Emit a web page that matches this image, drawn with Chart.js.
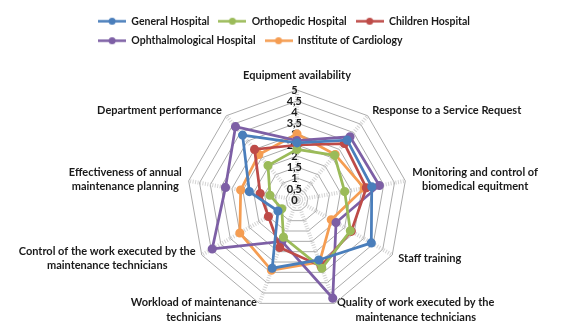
<!DOCTYPE html>
<html><head><meta charset="utf-8">
<script src="https://cdn.jsdelivr.net/npm/chart.js@4.4.1/dist/chart.umd.min.js"></script>
<style>html,body{margin:0;padding:0;background:#fff}</style>
</head><body>
<canvas id="c" width="567" height="326"></canvas>
<script>
const categories = [
  'Equipment availability',
  'Response to a Service Request',
  ['Monitoring and control of', 'biomedical equitment'],
  'Staff training',
  ['Quality of work executed by the', 'maintenance technicians'],
  ['Workload of maintenance', 'technicians'],
  ['Control of the work executed by the', 'maintenance technicians'],
  ['Effectiveness of annual', 'maintenance planning'],
  'Department performance'
];
const seriesNames = ['General Hospital', 'Orthopedic Hospital', 'Children Hospital', 'Ophthalmological Hospital', 'Institute of Cardiology'];
const generalHospital          = [2.6, 3.55, 3.45, 3.9, 2.9, 3.3, 1.0, 2.2, 3.85];
const orthopedicHospital       = [2.3, 2.65, 2.2, 2.8, 3.3, 1.8, 0.8, 1.25, 2.05];
const childrenHospital         = [2.5, 3.35, 3.2, 2.85, 3.2, 2.3, 1.5, 1.7, 3.0];
const ophthalmologicalHospital = [2.7, 3.75, 3.8, 2.05, 4.75, 2.0, 4.45, 3.3, 4.35];
const instituteOfCardiology    = [3.0, 2.7, 3.1, 1.8, 3.0, 3.4, 3.0, 2.6, 2.7];
const tickValues = [0, 0.5, 1, 1.5, 2, 2.5, 3, 3.5, 4, 4.5, 5];
const tickLabels = ['0', '0,5', '1', '1,5', '2', '2,5', '3', '3,5', '4', '4,5', '5'];
const legendRows = [3, 2];

// layout of the radar inside the canvas (fractions of canvas size) and label gap
const radarBox = { cx: 297 / 567, cy: 200 / 326, r: 110 / 326, labelGap: 7 };

const colors = ['#4a7ebb', '#9bbb59', '#be4b48', '#7d5fa5', '#f59d52'];
const FONT = 'Lato, "Liberation Sans", sans-serif';

function makeMarker(color) {
  const c = document.createElement('canvas');
  c.width = 28; c.height = 9;
  const x = c.getContext('2d');
  x.strokeStyle = color; x.lineWidth = 2.5;
  x.beginPath(); x.moveTo(0, 4.5); x.lineTo(28, 4.5); x.stroke();
  x.fillStyle = color;
  x.beginPath(); x.arc(14, 4.5, 3.5, 0, Math.PI * 2); x.fill();
  return c;
}
const markers = colors.map(makeMarker);

const allSeries = [generalHospital, orthopedicHospital, childrenHospital, ophthalmologicalHospital, instituteOfCardiology];

const legendWrap = {
  id: 'legendWrap',
  afterUpdate(chart) {
    const lg = chart.legend;
    if (!lg || !lg.legendItems) return;
    const lo = lg.options.labels;
    const font = Chart.helpers.toFont(lo.font);
    const ctx = chart.ctx;
    ctx.save(); ctx.font = font.string;
    const widths = lg.legendItems.map(it => lo.pointStyleWidth + font.size / 2 + ctx.measureText(it.text).width + lo.padding);
    ctx.restore();
    const lw = []; let k = 0;
    legendRows.forEach(n => { let s = 0; for (let j = 0; j < n; j++) s += widths[k++]; lw.push(s); });
    const maxW = Math.max(...lw);
    const mid = (lg.left + lg.right) / 2;
    lg.left = mid - (maxW + lo.padding) / 2;
    lg.right = lg.left + maxW + lo.padding + 1;
    lg.lineWidths = lw.map(() => maxW);
  }
};

const zeroLabel = {
  id: 'zeroLabel',
  beforeDatasetsDraw(chart) {
    const r = chart.scales.r;
    const p = r.getPointPositionForValue(0, tickValues[0]);
    const ctx = chart.ctx;
    const f = Chart.helpers.toFont(r.options.ticks.font);
    ctx.save();
    ctx.font = f.string;
    ctx.fillStyle = r.options.ticks.color;
    ctx.textAlign = 'center';
    ctx.textBaseline = 'middle';
    ctx.fillText(tickLabels[0] + '  ', p.x, p.y);
    ctx.restore();
  }
};

// place radar and its category labels the way the spreadsheet does
function placeRadar(scale) {
  const W = scale.chart.width, H = scale.chart.height;
  scale.xCenter = Math.round(W * radarBox.cx);
  scale.yCenter = Math.round(H * radarBox.cy);
  scale.drawingArea = Math.round(H * radarBox.r);
  const ctx = scale.ctx;
  const items = [];
  scale._pointLabels.forEach((lab, i) => {
    const opts = scale.options.pointLabels.setContext(scale.getPointLabelContext(i));
    const f = Chart.helpers.toFont(opts.font);
    const lines = Array.isArray(lab) ? lab : [lab];
    ctx.save(); ctx.font = f.string;
    const w = Math.max(...lines.map(l => ctx.measureText(l).width));
    ctx.restore();
    const h = lines.length * f.lineHeight;
    const p = scale.getPointPosition(i, scale.drawingArea + radarBox.labelGap);
    const ux = p.x - scale.xCenter, uy = p.y - scale.yCenter;
    let left, top;
    if (Math.abs(ux) < 0.5) {
      left = p.x - w / 2;
      top = uy < 0 ? p.y - h : p.y;
    } else {
      left = ux > 0 ? p.x : p.x - w;
      top = p.y - h / 2;
    }
    items.push({ visible: true, x: left + w / 2, y: top, textAlign: 'center', left, top, right: left + w, bottom: top + h });
  });
  scale._pointLabelItems = items;
}

new Chart(document.getElementById('c'), {
  type: 'radar',
  data: {
    labels: categories,
    datasets: seriesNames.map((name, i) => ({
      label: name,
      data: allSeries[i],
      borderColor: colors[i],
      backgroundColor: colors[i],
      pointBackgroundColor: colors[i],
      pointBorderColor: colors[i],
      pointRadius: 3.2,
      borderWidth: 2.75,
      fill: false
    }))
  },
  options: {
    responsive: false,
    animation: false,
    layout: { padding: { top: 7, bottom: 2, left: 0, right: 0 } },
    plugins: {
      tooltip: { enabled: false },
      legend: {
        position: 'top',
        labels: {
          usePointStyle: true,
          pointStyleWidth: 28,
          padding: 9,
          color: '#1a1a1a',
          font: { family: FONT, size: 10.5, weight: 'bold' },
          generateLabels(chart) {
            const items = Chart.defaults.plugins.legend.labels.generateLabels(chart);
            items.forEach((it, i) => { it.pointStyle = markers[i]; it.fontColor = '#1a1a1a'; });
            return items;
          }
        }
      }
    },
    scales: {
      r: {
        min: tickValues[0],
        max: tickValues[tickValues.length - 1],
        afterFit: placeRadar,
        ticks: {
          stepSize: tickValues[1] - tickValues[0],
          showLabelBackdrop: false,
          color: '#1a1a1a',
          font: { family: FONT, size: 11, weight: 'bold' },
          callback: (v) => {
            const i = tickValues.findIndex(t => Math.abs(t - v) < 1e-6);
            return i >= 0 ? tickLabels[i] + '  ' : '';
          }
        },
        grid: { color: '#ababab', lineWidth: 1 },
        angleLines: { color: 'rgba(200,200,200,0.8)', lineWidth: 4, borderDash: [1, 1.5] },
        pointLabels: {
          color: '#1a1a1a',
          padding: 4,
          font: { family: FONT, size: 11, weight: 'bold', lineHeight: 1.3 }
        }
      }
    }
  },
  plugins: [legendWrap, zeroLabel]
});
</script>
</body></html>
